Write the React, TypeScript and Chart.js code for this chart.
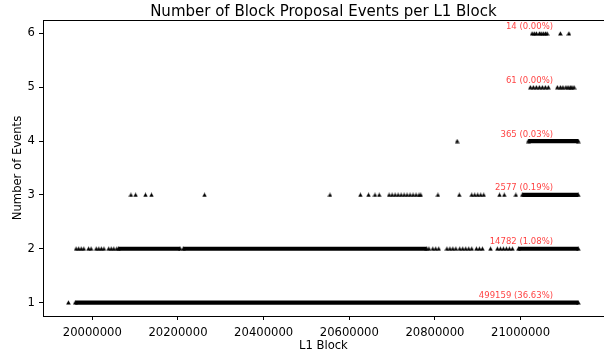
import React, { useEffect, useRef } from "react";
import { Chart, registerables } from "chart.js";

Chart.register(...registerables);

// ---------- data ----------
const X_TICKS = [20000000, 20200000, 20400000, 20600000, 20800000, 21000000];
const Y_TICKS = [1, 2, 3, 4, 5, 6];
const EVENT_COUNTS = [1, 2, 3, 4, 5, 6];
const BLOCKS_WITH_COUNT = [499159, 14782, 2577, 365, 61, 14];
const SHARE_PCT = ["36.63", "1.08", "0.19", "0.03", "0.00", "0.00"];

// dense (visually continuous) runs of L1 blocks: [startBlock, endBlock]
const DENSE_RUNS_1: number[][] = [[19960000, 21135000]];
const DENSE_RUNS_2: number[][] = [
  [20061000, 20205000],
  [20212000, 20781000],
  [20995000, 21135000],
];
const DENSE_RUNS_3: number[][] = [[21004000, 21135000]];
const DENSE_RUNS_4: number[][] = [[21018000, 21135000]];
const DENSE_RUNS_5: number[][] = [];
const DENSE_RUNS_6: number[][] = [];

// isolated L1 blocks
const SPARSE_1 = [19944000];
const SPARSE_2 = [
  19962000, 19968000, 19974000, 19980000, 19991000, 19997000, 20009000,
  20015000, 20021000, 20027000, 20038000, 20044000, 20050000, 20057000,
  20786000, 20795000, 20802000, 20809000, 20828000, 20835000, 20842000,
  20849000, 20858000, 20865000, 20872000, 20879000, 20886000, 20897000,
  20904000, 20911000, 20930000, 20946000, 20953000, 20960000, 20967000,
  20974000, 20981000,
];
const SPARSE_3 = [
  20090000, 20101000, 20124000, 20138000, 20262000, 20555000, 20626000,
  20645000, 20660000, 20670000, 20693000, 20700000, 20707000, 20714000,
  20721000, 20728000, 20735000, 20742000, 20749000, 20756000, 20763000,
  20767000, 20807000, 20857000, 20886000, 20893000, 20900000, 20907000,
  20914000, 20951000, 20962000, 20989000,
];
const SPARSE_4 = [20852000];
const SPARSE_5 = [
  21023000, 21030000, 21037000, 21044000, 21051000, 21058000, 21065000,
  21086000, 21093000, 21099000, 21106000, 21111000, 21116000, 21120000,
  21125000,
];
const SPARSE_6 = [
  21027000, 21032000, 21037000, 21044000, 21048000, 21053000, 21058000,
  21062000, 21093000, 21113000,
];

const DENSE_RUNS = [DENSE_RUNS_1, DENSE_RUNS_2, DENSE_RUNS_3, DENSE_RUNS_4, DENSE_RUNS_5, DENSE_RUNS_6];
const SPARSE = [SPARSE_1, SPARSE_2, SPARSE_3, SPARSE_4, SPARSE_5, SPARSE_6];

const X_MIN = 19884700;
const X_MAX = 21194500;
const Y_MIN = 0.75;
const Y_MAX = 6.25;
const LABEL_ANCHOR_X = 21076000;

const TITLE = "Number of Block Proposal Events per L1 Block";
const X_LABEL = "L1 Block";
const Y_LABEL = "Number of Events";

const FONT = "'DejaVu Sans', 'Liberation Sans', sans-serif";

function makeTriangle(): HTMLCanvasElement {
  const c = document.createElement("canvas");
  c.width = 5;
  c.height = 5;
  const g = c.getContext("2d")!;
  g.fillStyle = "#000";
  g.beginPath();
  g.moveTo(2.5, 0.3);
  g.lineTo(4.8, 4.6);
  g.lineTo(0.2, 4.6);
  g.closePath();
  g.fill();
  return c;
}

export default function App() {
  const ref = useRef<HTMLCanvasElement | null>(null);

  useEffect(() => {
    if (!ref.current) return;
    const tri = makeTriangle();

    const datasets: any[] = [];
    EVENT_COUNTS.forEach((level, i) => {
      DENSE_RUNS[i].forEach((run) => {
        datasets.push({
          data: run.map((x) => ({ x, y: level })),
          showLine: true,
          borderColor: "#000",
          borderWidth: 4.2,
          borderCapStyle: "butt",
          pointStyle: tri,
          pointRadius: 2.5,
          backgroundColor: "#000",
        });
      });
      datasets.push({
        data: SPARSE[i].map((x) => ({ x, y: level })),
        showLine: false,
        pointStyle: tri,
        pointRadius: 2.5,
        backgroundColor: "#000",
        borderColor: "#000",
      });
    });

    const decor = {
      id: "decor",
      afterDraw(chart: any) {
        const { ctx, chartArea: a } = chart;
        const xs = chart.scales.x;
        const ys = chart.scales.y;
        ctx.save();
        // frame
        ctx.strokeStyle = "#000";
        ctx.lineWidth = 1;
        ctx.strokeRect(Math.round(a.left) + 0.5, Math.round(a.top) + 0.5, Math.round(a.right - a.left), Math.round(a.bottom - a.top));
        // count labels
        ctx.fillStyle = "rgba(255,0,0,0.75)";
        ctx.font = `8.5px ${FONT}`;
        ctx.textAlign = "right";
        ctx.textBaseline = "alphabetic";
        const ax = xs.getPixelForValue(LABEL_ANCHOR_X);
        EVENT_COUNTS.forEach((level, i) => {
          const py = ys.getPixelForValue(level);
          ctx.fillText(`${BLOCKS_WITH_COUNT[i]} (${SHARE_PCT[i]}%)`, ax, py - 4.5);
        });
        // title and axis labels
        ctx.fillStyle = "#000";
        ctx.textAlign = "center";
        const cx = (a.left + a.right) / 2;
        ctx.font = `15px ${FONT}`;
        ctx.fillText(TITLE, cx, 16);
        ctx.font = `11.6px ${FONT}`;
        ctx.fillText(X_LABEL, cx, 349);
        ctx.translate(21, (a.top + a.bottom) / 2);
        ctx.rotate(-Math.PI / 2);
        ctx.fillText(Y_LABEL, 0, 0);
        ctx.restore();
      },
    };

    const chart = new Chart(ref.current, {
      type: "scatter",
      data: { datasets },
      plugins: [decor],
      options: {
        animation: false,
        responsive: false,
        maintainAspectRatio: false,
        layout: { padding: { left: 0, right: 6, top: 20, bottom: 0 } },
        plugins: {
          legend: { display: false },
          tooltip: { enabled: false },
          title: { display: false },
        },
        scales: {
          x: {
            type: "linear",
            min: X_MIN,
            max: X_MAX,
            border: { display: false },
            grid: { display: true, drawOnChartArea: false, drawTicks: true, tickLength: 4, color: "#000", lineWidth: 1 },
            ticks: {
              color: "#000",
              font: { family: FONT, size: 11.6 },
              padding: 6,
              maxRotation: 0,
              autoSkip: false,
              callback: (v: any) => String(v),
            },
            afterBuildTicks: (s: any) => {
              s.ticks = X_TICKS.map((v) => ({ value: v }));
            },
            afterFit: (s: any) => {
              s.height = 40;
            },
          },
          y: {
            type: "linear",
            min: Y_MIN,
            max: Y_MAX,
            border: { display: false },
            grid: { display: true, drawOnChartArea: false, drawTicks: true, tickLength: 4, color: "#000", lineWidth: 1 },
            ticks: {
              color: "#000",
              font: { family: FONT, size: 11.6 },
              padding: 4,
              autoSkip: false,
              callback: (v: any) => String(v),
            },
            afterBuildTicks: (s: any) => {
              s.ticks = Y_TICKS.map((v) => ({ value: v }));
            },
            afterFit: (s: any) => {
              s.width = 43;
            },
          },
        },
      } as any,
    });
    return () => chart.destroy();
  }, []);

  return (
    <div style={{ position: "fixed", left: 0, top: 0, width: 604, height: 356, overflow: "hidden", background: "#fff" }}>
      <canvas ref={ref} width={612} height={356} style={{ display: "block" }} />
    </div>
  );
}
